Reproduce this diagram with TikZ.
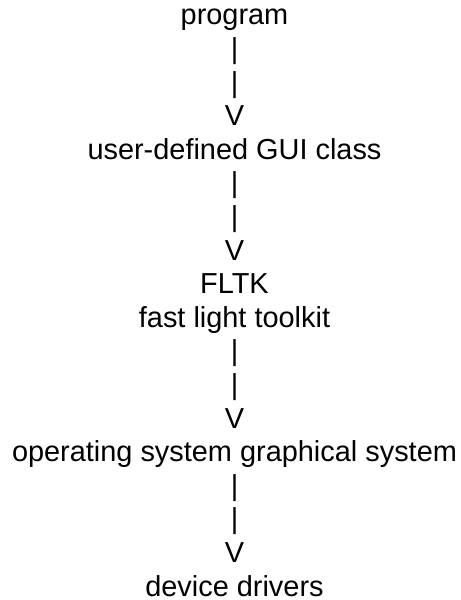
\documentclass[tikz,border=0pt]{standalone}
\usepackage{fontspec}
\setmainfont{Liberation Sans}
\begin{document}
\begin{tikzpicture}[x=1bp,y=1bp,
  txt/.style={anchor=base, inner sep=0pt, font=\fontsize{28.9bp}{33.6bp}\selectfont}]
\useasboundingbox (0,0) rectangle (461,600);
% one text line every 33.6bp, centred on a common axis
\def\cx{234.5}
\node[txt] (prog)  at (\cx,575.0) {program};
\node[txt] (barA1) at (\cx,541.4) {|};
\node[txt] (barA2) at (\cx,507.8) {|};
\node[txt] (vA)    at (\cx,474.2) {V};
\node[txt] (gui)   at (\cx,440.6) {user-defined GUI class};
\node[txt] (barB1) at (\cx,407.0) {|};
\node[txt] (barB2) at (\cx,373.4) {|};
\node[txt] (vB)    at (\cx,339.8) {V};
\node[txt] (fltk)  at (\cx,306.2) {FLTK};
\node[txt] (fast)  at (\cx,272.6) {fast light toolkit};
\node[txt] (barC1) at (\cx,239.0) {|};
\node[txt] (barC2) at (\cx,205.4) {|};
\node[txt] (vC)    at (\cx,171.8) {V};
\node[txt] (os)    at (\cx,138.2) {operating system graphical system};
\node[txt] (barD1) at (\cx,104.6) {|};
\node[txt] (barD2) at (\cx,71.0) {|};
\node[txt] (vD)    at (\cx,37.4) {V};
\node[txt] (dev)   at (\cx,3.8) {device drivers};
\end{tikzpicture}
\end{document}
